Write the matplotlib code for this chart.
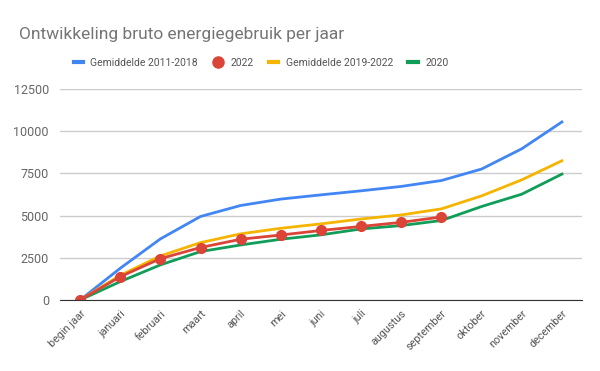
import matplotlib.pyplot as plt
from matplotlib.lines import Line2D

plt.rcParams['font.family'] = ['Roboto', 'DejaVu Sans']

maanden = ["begin jaar", "januari", "februari", "maart", "april", "mei", "juni",
           "juli", "augustus", "september", "oktober", "november", "december"]

gem_2011_2018 = [0, 1880, 3620, 4950, 5600, 5980, 6230, 6470, 6730, 7080, 7760, 8960, 10550]
jaar_2022 = [0, 1380, 2450, 3110, 3600, 3850, 4120, 4360, 4600, 4920]
gem_2019_2022 = [0, 1460, 2610, 3400, 3920, 4250, 4510, 4800, 5040, 5400, 6170, 7120, 8250]
jaar_2020 = [0, 1090, 2080, 2870, 3260, 3600, 3860, 4210, 4410, 4710, 5540, 6270, 7460]

blauw = "#4285f4"
rood = "#db4437"
geel = "#f4b400"
groen = "#0f9d58"

fig = plt.figure(figsize=(6, 3.71), dpi=100)
ax = fig.add_axes([0.1, 0.1914, 0.87, 0.5686])

x = list(range(len(maanden)))
ax.plot(x, gem_2011_2018, color=blauw, linewidth=2, zorder=3)
ax.plot(x, gem_2019_2022, color=geel, linewidth=2, zorder=3)
ax.plot(x, jaar_2020, color=groen, linewidth=2, zorder=3)
ax.plot(x[:len(jaar_2022)], jaar_2022, color=rood, linewidth=2, marker="o",
        markersize=7, zorder=4)

ax.set_xlim(-0.5, 12.5)
ax.set_ylim(0, 12500)
ax.set_yticks([0, 2500, 5000, 7500, 10000, 12500])
ax.set_xticks(x)
ax.set_xticklabels(maanden, rotation=45, ha="right", rotation_mode="anchor")
ax.tick_params(axis="x", length=0, pad=6, labelsize=7.8, colors="#555555")
ax.tick_params(axis="y", length=0, pad=8, labelsize=9, colors="#666666")
ax.grid(axis="y", color="#cccccc", linewidth=1)
for kant in ["top", "right", "left"]:
    ax.spines[kant].set_visible(False)
ax.spines["bottom"].set_color("#333333")
ax.spines["bottom"].set_zorder(5)

fig.text(0.032, 0.908, "Ontwikkeling bruto energiegebruik per jaar",
         fontsize=12.5, color="#757575", va="center")

handles = [
    Line2D([], [], color=blauw, linewidth=3),
    Line2D([], [], color=rood, linestyle="none", marker="o", markersize=8),
    Line2D([], [], color=geel, linewidth=3),
    Line2D([], [], color=groen, linewidth=3),
]
labels = ["Gemiddelde 2011-2018", "2022", "Gemiddelde 2019-2022", "2020"]
fig.legend(handles, labels, loc="center", bbox_to_anchor=(0.435, 0.831), ncol=4,
           frameon=False, fontsize=7.5, handlelength=0.9, handletextpad=0.7,
           columnspacing=1.5, labelcolor="#555555")

fig.savefig("out.png", dpi=100)
